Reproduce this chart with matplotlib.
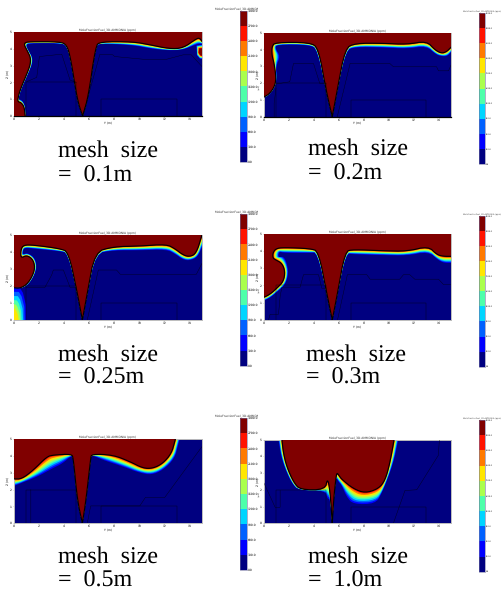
"""Ammonia mole fraction contours for six mesh sizes, redrawn from the figure."""

from __future__ import annotations

import matplotlib
matplotlib.use("Agg")
import matplotlib.pyplot as plt
import numpy as np
from matplotlib.colorbar import ColorbarBase
from matplotlib.colors import BoundaryNorm, ListedColormap
from matplotlib.transforms import Bbox

plt.rcParams["text.hinting"] = "no_hinting"
plt.rcParams["text.hinting_factor"] = 1

W, H = 504, 589

TITLE = "MoleFractionFuel_3D.AMMONIA (ppm)"
LEVELS = [0, 300, 600, 900, 1200, 1500, 1800, 2100, 2400, 2700, 3000]
MESH_LABELS = ["0.1m", "0.2m", "0.25m", "0.3m", "0.5m", "1.0m"]

# the two buildings, same in every panel
BLD1_X = [1, 1, 5, 5]
BLD1_Y = [0, 2, 2, 0]
BLD2_X = [7, 7, 13, 13]
BLD2_Y = [0, 1, 1, 0]

# mesh 0.1
P1_RED_X = [.93, .85, .6, .35, .35, .55, 1.2, 1.35, 1.35, 1.05, .85, .93, 1.2, 3.7, 4.23, 4.55, 5.08, 5.5, 5.95, 6.53, 6.88, 9.5, 10.85, 12.4, 13.5, 14.55, 14.8, 15]
P1_RED_Y = [0, .55, .8, .85, 1.05, 1.6, 2.75, 3.15, 3.5, 3.95, 4.24, 4.36, 4.42, 4.42, 4.24, 3.44, .94, 0, 1.14, 4.14, 4.42, 4.42, 4.24, 4.0, 4.04, 4.6, 4.64, 4.44]
P1_EDGE_X = [.97, .92, .7, .42, .42, .62, 1.3, 1.5, 1.5, 1.22, 1.05, 1.05, 1.25, 3.7, 4.2, 4.53, 5.08, 5.5, 5.95, 6.53, 6.88, 9.5, 10.85, 12.4, 13.5, 14.35, 14.7, 15]
P1_EDGE_Y = [0, .6, .92, 1.0, 1.08, 1.62, 2.75, 3.15, 3.5, 3.85, 4.12, 4.25, 4.33, 4.33, 4.2, 3.44, .94, 0, 1.14, 4.14, 4.32, 4.22, 4.02, 3.9, 3.95, 4.2, 4.3, 4.3]
P1_CLOSE_X = [15, 0, 0]
P1_CLOSE_Y = [5, 5, 0]
P1_LINE_X = [1.05, 1.85, 2.06, 3.84, 4.5, 5, None, 5.5, 6.88, 7.9, 8.05, 10.3, 12.2, 13.5, 14.15, 15]
P1_LINE_Y = [2.04, 2.3, 3.54, 3.68, 2.14, 2, None, 0, 3.68, 3.64, 3.54, 3.38, 3.38, 3.64, 3.64, 2.94]
# small saturated pocket on the right wall of the 0.1 panel
P1_POCKET_OUT_X = [14.55, 14.6, 14.85, 15, 15]
P1_POCKET_OUT_Y = [4.2, 3.6, 3.4, 3.4, 4.25]
P1_POCKET_IN_X = [14.8, 14.75, 14.85, 15, 15]
P1_POCKET_IN_Y = [4.0, 3.8, 3.65, 3.6, 4.0]

# mesh 0.2
P2_RED_X = [0, .53, .93, 1.0, .85, .67, .67, .93, 3.73, 4.4, 5, 5.5, 5.9, 6.53, 7.33, 9.6, 11.46, 13.05, 13.72, 14.25, 14.65, 15]
P2_RED_Y = [1.15, 1.39, 1.88, 2.38, 3.17, 3.67, 4.17, 4.42, 4.42, 4.06, 1.59, 0, 1.59, 4.06, 4.37, 4.37, 4.3, 4.5, 3.97, 3.77, 3.87, 4.13]
P2_EDGE_X = [0, .55, .97, 1.05, 1.0, 1.35, .95, 1.05, 3.7, 4.3, 5, 5.5, 5.9, 6.6, 7.33, 9.6, 11.46, 13.05, 13.8, 14.25, 14.7, 15]
P2_EDGE_Y = [1.1, 1.35, 1.86, 2.38, 3.0, 3.6, 4.05, 4.3, 4.28, 4.0, 1.59, 0, 1.59, 3.95, 4.15, 4.12, 4.05, 4.2, 3.7, 3.6, 3.6, 3.85]
P2_CLOSE_X = [15, 0]
P2_CLOSE_Y = [5, 5]
P2_LINE_X = [.85, .85, 1, None, 1.05, 2.1, 2.4, 4.0, 4.5, 5, None, 5.9, 6.93, 10.1, 10.4, 13.85, 14, 14.8, 15]
P2_LINE_Y = [0, .8, 1.7, None, 1.95, 2.08, 3.17, 3.17, 1.98, 1.96, None, 0, 3.17, 3.17, 2.97, 2.97, 2.73, 2.73, 3.07]

# mesh 0.25
P3_RED_X = [0, .53, 1.19, 1.72, 1.59, 1.06, .58, .58, .79, 1.59, 3.7, 4.37, 5.03, 5.48, 5.87, 6.48, 7.94, 10.05, 12.17, 12.83, 13.5, 14.02, 14.55, 15]
P3_RED_Y = [1.9, 1.86, 2.16, 2.94, 3.53, 3.82, 3.63, 4.12, 4.41, 4.41, 4.2, 4.0, 1.77, 0, 1.57, 4.0, 4.31, 4.35, 4.45, 4.2, 3.82, 3.72, 3.92, 5]
P3_EDGE_X = [0, .53, 1.25, 1.85, 1.75, 1.15, .72, .75, .9, 1.59, 3.7, 4.3, 5.03, 5.48, 5.87, 6.55, 7.94, 10.05, 12.17, 12.83, 13.5, 14.02, 14.65, 15]
P3_EDGE_Y = [1.9, 1.84, 2.1, 2.94, 3.6, 3.95, 3.85, 4.1, 4.25, 4.2, 4.05, 3.95, 1.77, 0, 1.57, 3.92, 4.1, 4.1, 4.15, 3.9, 3.55, 3.5, 3.7, 4.3]
P3_CLOSE_X = [15, 0]
P3_CLOSE_Y = [5, 5]
P3_LINE_X = [1, 2.5, 3.04, 3.17, 3.97, 4.5, 5, None, 5.87, 6.75, 8.2, 8.5, 14.55, 15]
P3_LINE_Y = [1.92, 1.92, 2.65, 2.94, 2.94, 1.92, 1.92, None, 0, 2.94, 2.94, 2.69, 2.69, 3.33]
# plume in the bottom left corner of the 0.25 panel
P3_CORNER_OUT_X = [0, 1.0, .98, .75, .5, 0]
P3_CORNER_OUT_Y = [0, 0, .9, 1.6, 1.9, 1.9]
P3_CORNER_IN_X = [0, .3, .22, .1, .05, 0]
P3_CORNER_IN_Y = [0, 0, .18, .35, .4, .45]

# mesh 0.3
P4_RED_X = [0, .53, 1.07, 1.6, 1.73, 1.47, .93, .75, .75, 1.0, 1.6, 3.73, 4.4, 5.06, 5.5, 5.92, 6.53, 7.19, 9.6, 11.46, 13.19, 13.86, 14.39, 15]
P4_RED_Y = [1.3, 1.49, 1.84, 2.23, 2.81, 3.29, 3.49, 3.59, 3.88, 4.13, 4.19, 4.13, 3.97, 1.55, 0, 1.55, 3.97, 4.07, 4.0, 3.97, 4.26, 3.78, 3.68, 3.68]
P4_EDGE_X = [0, .55, 1.12, 1.75, 2.0, 1.87, 1.6, 1.25, 1.2, 1.3, 1.6, 3.7, 4.3, 5.06, 5.5, 5.92, 6.6, 7.19, 9.6, 11.46, 13.19, 14.0, 14.45, 15]
P4_EDGE_Y = [1.1, 1.3, 1.65, 2.05, 2.7, 3.3, 3.68, 3.6, 3.8, 3.95, 3.88, 3.88, 3.9, 1.55, 0, 1.55, 3.85, 3.8, 3.75, 3.72, 3.95, 3.45, 3.3, 3.3]
P4_CLOSE_X = [15, 0]
P4_CLOSE_Y = [5, 5]
P4_LINE_X = [.4, .53, 1.2, 1.33, 1.47, 2.93, 3.2, 4.4, 4.66, 5, None, 5.92, 6.71, 8.26, 8.53, 10.9, 11.2, 11.7, 12.1, 14, 14.4, 15]
P4_LINE_Y = [0, .33, .33, 1.36, 1.9, 1.9, 2.62, 2.62, 1.84, 1.84, None, 0, 2.62, 2.62, 2.36, 2.36, 2.62, 2.62, 2.36, 2.36, 2.05, 2.05]

# mesh 0.5
P5_RED_X = [0, .66, 1.59, 2.65, 3.17, 4.63, 4.76, 5.08, 5.48, 5.77, 6.14, 6.22, 7.94, 9.26, 10.32, 11.11, 11.9, 12.57, 12.83, 12.88]
P5_RED_Y = [2.63, 2.63, 3.16, 3.95, 4.05, 4.11, 3.85, 1.38, 0, 1.38, 3.85, 4.11, 4.05, 3.66, 3.26, 3.26, 3.56, 4.15, 4.84, 5]
P5_EDGE_X = [0, .6, 1.85, 3.2, 3.9, 4.68, 4.76, 5.08, 5.48, 5.77, 6.14, 6.22, 7.14, 8.73, 10.0, 10.98, 11.9, 12.83, 13.1, 13.23]
P5_EDGE_Y = [2.2, 2.38, 2.75, 3.3, 3.55, 4.05, 3.85, 1.38, 0, 1.38, 3.85, 4.05, 3.75, 3.36, 3.0, 2.87, 3.16, 3.85, 4.64, 5]
P5_CLOSE_X = [0]
P5_CLOSE_Y = [5]
P5_LINE_X = [1.38, 1.38, None, 5.87, 6.14, 10.05, 10.5, 12.04, 15]
P5_LINE_Y = [0, 2, None, 0, 1.03, 1.03, 1.54, 1.54, 4.55]

# mesh 1.0
P6_RED_X = [1.47, 1.6, 1.87, 2.4, 2.93, 4.93, 5.12, 5.32, 5.5, 5.63, 5.79, 5.87, 6.03, 6.26, 7.19, 8.13, 9.19, 9.73, 10.1, 10.45]
P6_RED_Y = [5, 4.16, 3.36, 2.46, 2.0, 2.0, 2.7, 1.96, 0, 1.56, 2.66, 3.02, 2.86, 2.62, 2.06, 1.8, 2.06, 2.56, 3.56, 5]
P6_EDGE_X = [1.2, 1.39, 1.73, 2.26, 2.8, 4.93, 5.12, 5.32, 5.5, 5.63, 5.79, 5.87, 6.03, 6.26, 6.66, 7.19, 8.93, 9.46, 10.39, 10.79]
P6_EDGE_Y = [5, 4.06, 3.26, 2.4, 1.96, 1.96, 1.46, 1.46, 0, 1.56, 2.66, 2.66, 2.45, 2.26, 1.56, 1.14, 1.16, 1.76, 3.56, 5]
P6_CLOSE_X = []
P6_CLOSE_Y = []
P6_LINE_X = [0, .93, 1.33, 1.33, None, 10.39, 11.32, 12.26, 13.99, 14.07]
P6_LINE_Y = [2.46, .96, .96, 1.96, None, 0, 1.96, 2.0, 4.06, 5]

# pixel boxes: left, right, top, bottom
AX_BOXES = [
    (13.5, 202, 32, 116), (263.5, 451, 32.7, 116.7),
    (13.5, 202, 235, 320), (263.5, 451, 233.5, 320),
    (13.5, 202, 439, 523.3), (263.5, 451, 439.5, 523.3),
]
CB_BOXES = [
    (240, 247, 11, 162), (478.7, 484.5, 13, 164),
    (240, 247, 214, 365.7), (478.7, 484.5, 216, 366.7),
    (240, 247, 418, 570), (478.7, 484.5, 420, 571.7),
]
TEXT_POS = [
    (58, 157, 182), (308, 155, 180),
    (58, 360.7, 384), (306, 360.7, 384),
    (58, 562.5, 586.5), (308, 562.5, 586.5),
]

colours = plt.cm.jet(np.linspace(0, 1, 10))
cmap = ListedColormap(colours)
norm = BoundaryNorm(LEVELS, cmap.N)


def add_axes_px(fig, box):
    left, right, top, bottom = box
    return fig.add_axes([left / W, 1 - bottom / H, (right - left) / W, (bottom - top) / H])


def smooth(xs, ys, passes=2):
    """Corner cutting for the drawn curves, points on the ground stay sharp."""
    pts = []
    for x, y in zip(xs, ys):
        pts.append((x, y))
        if y == 0:
            pts.append((x, y))
    pts = np.array(pts, float)
    for _ in range(passes):
        a, b = pts[:-1], pts[1:]
        cut = np.empty((len(a) * 2, 2))
        cut[0::2] = 0.75 * a + 0.25 * b
        cut[1::2] = 0.25 * a + 0.75 * b
        pts = np.vstack([pts[:1], cut, pts[-1:]])
    return pts[:, 0], pts[:, 1]


def draw_bands(ax, out_x, out_y, in_x, in_y, first, last, close_x=(), close_y=(), zorder=2):
    """Nested filled bands running from the outer polygon to the inner one."""
    n = last - first + 1
    for i in range(n):
        t = i / n
        ax.fill(np.r_[out_x + (in_x - out_x) * t, close_x], np.r_[out_y + (in_y - out_y) * t, close_y],
                color=colours[first + i], lw=0, zorder=zorder)


def draw_panel(ax, red_x, red_y, edge_x, edge_y, close_x, close_y, line_x, line_y):
    ax.set_facecolor(colours[0])
    sx, sy = smooth(red_x, red_y)
    ex, ey = smooth(edge_x, edge_y)
    # plume bands first, then the saturated region on top
    draw_bands(ax, ex, ey, sx, sy, 1, 8, close_x, close_y)
    ax.fill(np.r_[sx, close_x], np.r_[sy, close_y], color=colours[9], lw=0, zorder=3)
    ax.plot(sx, sy, color="k", lw=0.85, zorder=4)
    ax.plot(BLD1_X, BLD1_Y, color="k", lw=0.3, alpha=0.8, zorder=4)
    ax.plot(BLD2_X, BLD2_Y, color="k", lw=0.3, alpha=0.8, zorder=4)
    ax.plot(np.array(line_x, float), np.array(line_y, float), color="k", lw=0.3, alpha=0.8, zorder=4)

    ax.set_xlim(0, 15)
    ax.set_ylim(0, 5)
    ax.set_xticks(range(0, 15, 2))
    ax.set_yticks(range(0, 6))
    ax.tick_params(labelsize=1.9, length=0.6, width=0.2, pad=0.5)
    ax.set_xlabel("Y (m)", fontsize=1.9, labelpad=0.4)
    ax.set_ylabel("Z (m)", fontsize=1.9, labelpad=0.4)
    ax.set_title(TITLE, fontsize=2.4, pad=1.2, color="#333333")
    for spine in ax.spines.values():
        spine.set_color("#bcbcbc")
        spine.set_linewidth(0.7)


def draw_colourbar(fig, box, right_col):
    cax = add_axes_px(fig, box)
    bar = ColorbarBase(cax, cmap=cmap, norm=norm, ticks=LEVELS, spacing="proportional")
    size = 1.6 if right_col else 2.1
    bar.ax.tick_params(labelsize=size, length=0, pad=0.8)
    bar.ax.set_yticklabels([f"{v:.1f}" for v in LEVELS])
    bar.outline.set_edgecolor("#7070a0")
    bar.outline.set_linewidth(0.4)
    size = 1.8 if right_col else 2.4
    label = cax.set_title(TITLE, fontsize=size, pad=1.0, color="#333333")
    if right_col:
        label.set_fontsize(1.75)
    else:
        # the left hand image is cut off where the right one starts
        label.set_clip_box(Bbox([[0, 0], [258, H]]))
        label.set_clip_on(True)
        fig.text(258.5 / W, 1 - (box[2] + box[3]) / 2 / H, "(ppm)", fontsize=1.5,
                 rotation=90, ha="center", va="center", color="#333333")


def main() -> None:
    fig = plt.figure(figsize=(W / 100, H / 100), dpi=100, facecolor="white")

    panels = [
        (P1_RED_X, P1_RED_Y, P1_EDGE_X, P1_EDGE_Y, P1_CLOSE_X, P1_CLOSE_Y, P1_LINE_X, P1_LINE_Y),
        (P2_RED_X, P2_RED_Y, P2_EDGE_X, P2_EDGE_Y, P2_CLOSE_X, P2_CLOSE_Y, P2_LINE_X, P2_LINE_Y),
        (P3_RED_X, P3_RED_Y, P3_EDGE_X, P3_EDGE_Y, P3_CLOSE_X, P3_CLOSE_Y, P3_LINE_X, P3_LINE_Y),
        (P4_RED_X, P4_RED_Y, P4_EDGE_X, P4_EDGE_Y, P4_CLOSE_X, P4_CLOSE_Y, P4_LINE_X, P4_LINE_Y),
        (P5_RED_X, P5_RED_Y, P5_EDGE_X, P5_EDGE_Y, P5_CLOSE_X, P5_CLOSE_Y, P5_LINE_X, P5_LINE_Y),
        (P6_RED_X, P6_RED_Y, P6_EDGE_X, P6_EDGE_Y, P6_CLOSE_X, P6_CLOSE_Y, P6_LINE_X, P6_LINE_Y),
    ]

    for i, data in enumerate(panels):
        ax = add_axes_px(fig, AX_BOXES[i])
        draw_panel(ax, *data)
        if i == 0:
            draw_bands(ax, np.array(P1_POCKET_OUT_X, float), np.array(P1_POCKET_OUT_Y, float),
                       np.array(P1_POCKET_IN_X, float), np.array(P1_POCKET_IN_Y, float), 1, 9, zorder=5)
        if i == 2:
            draw_bands(ax, np.array(P3_CORNER_OUT_X, float), np.array(P3_CORNER_OUT_Y, float),
                       np.array(P3_CORNER_IN_X, float), np.array(P3_CORNER_IN_Y, float), 1, 6, zorder=3)
        if i < 2:
            ax.spines["bottom"].set_color("k")
            ax.spines["bottom"].set_linewidth(0.9)
        draw_colourbar(fig, CB_BOXES[i], i % 2 == 1)

        x, y1, y2 = TEXT_POS[i]
        fig.text(x / W, 1 - y1 / H, "mesh  size", family="Liberation Serif", fontsize=17, va="baseline")
        fig.text(x / W, 1 - y2 / H, f"=  {MESH_LABELS[i]}", family="Liberation Serif", fontsize=17, va="baseline")

    fig.savefig("out.png", dpi=100)
    plt.close(fig)


if __name__ == "__main__":
    main()
